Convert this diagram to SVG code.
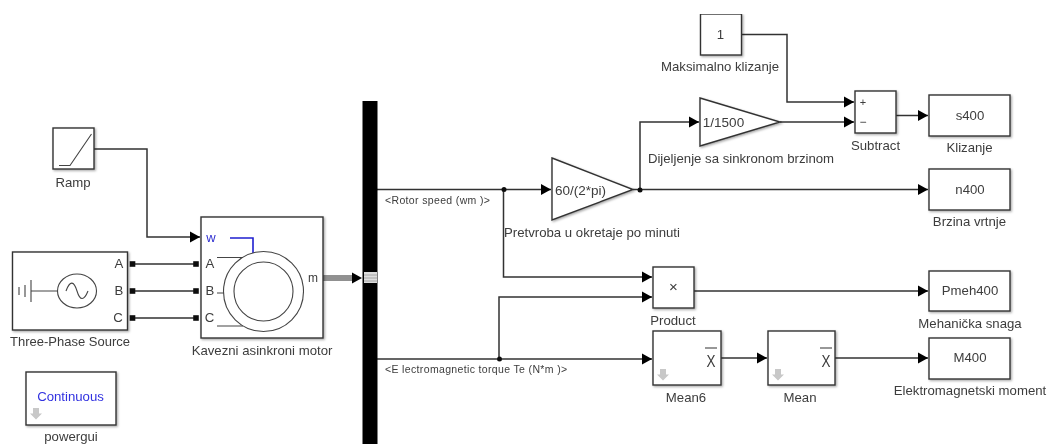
<svg xmlns="http://www.w3.org/2000/svg" width="1051" height="444" viewBox="0 0 1051 444">
<style>
.b{fill:#fff;stroke:#333;stroke-width:1.4;filter:url(#sh)}
.t{font-family:"Liberation Sans",Arial,sans-serif;font-size:13.2px;fill:#3c3c3c;text-anchor:middle}
.s{font-size:10.5px;text-anchor:start;letter-spacing:.35px}
.c{fill:none;stroke:#333;stroke-width:1.5}
.g{fill:none;stroke:#444;stroke-width:1.1}
.d{fill:#111}
.u{fill:#c8c8c8}
.w{fill:#fff}
</style>
<defs>
<filter id="sh" x="-10%" y="-10%" width="125%" height="125%"><feDropShadow dx="1.2" dy="1.2" stdDeviation="1" flood-color="#000" flood-opacity=".35"/></filter>
<filter id="bl" x="0" y="0" width="100%" height="100%"><feGaussianBlur stdDeviation=".45"/></filter>
<marker id="a" markerUnits="userSpaceOnUse" markerWidth="11" markerHeight="12" refX="10" refY="6" orient="auto"><path d="M0 .5L10 6L0 11.500Z" fill="#000"/></marker>
<path id="dn" d="M-3 0H3V5.500H6L0 11.500L-6 5.500H-3Z"/>
<rect id="pt" x="-2.800" y="-2.800" width="5.600" height="5.600" fill="#111"/>
</defs>
<rect width="1051" height="444" fill="#fff"/>
<g filter="url(#bl)">
<g id="connectors">
<path class="c" marker-end="url(#a)" d="M94 149H147V237H200"/>
<path class="c" d="M133 264H195M133 291H195M133 318H195"/>
<path fill="none" stroke="#222" stroke-width="1" d="M323 276H353M323 278H353M323 280H353"/>
<path d="M352 272.500L362 278L352 283.500Z" fill="#000"/>
<path class="c" marker-end="url(#a)" d="M377 189.500H551"/>
<path class="c" marker-end="url(#a)" d="M503.500 189.500V277H652"/>
<path class="c" marker-end="url(#a)" d="M377 359H652"/>
<path class="c" marker-end="url(#a)" d="M499 359V297H652"/>
<path class="c" marker-end="url(#a)" d="M633 189.500H928"/>
<path class="c" marker-end="url(#a)" d="M640 189.500V122H699"/>
<path class="c" marker-end="url(#a)" d="M780 122H854"/>
<path class="c" marker-end="url(#a)" d="M741 34.500H787V102H854"/>
<path class="c" marker-end="url(#a)" d="M896 115.500H928"/>
<path class="c" marker-end="url(#a)" d="M694 291H928"/>
<path class="c" marker-end="url(#a)" d="M721 358H767"/>
<path class="c" marker-end="url(#a)" d="M835 358H928"/>
<circle class="d" cx="504" cy="189.500" r="2.500"/>
<circle class="d" cx="640" cy="190" r="2.500"/>
<circle class="d" cx="499.500" cy="359" r="2.500"/>
<text class="t s" x="385" y="204">&lt;Rotor speed (wm )&gt;</text>
<text class="t s" x="385" y="373">&lt;E lectromagnetic torque Te (N*m )&gt;</text>
</g>
<g id="ramp"><rect class="b" x="53" y="128" width="41" height="41"/><path class="g" d="M59 165.500H70L91.500 134"/><text class="t" x="73" y="187">Ramp</text></g>
<g id="source"><rect class="b" x="12.500" y="252" width="115" height="78"/>
<path class="g" d="M19 287V295M25 285V297M31 280V302M31 291H57"/>
<ellipse class="g" cx="77" cy="291" rx="19.500" ry="17"/>
<path class="g" stroke-width="1.300" d="M66 291C70 280 74 281 77 291C80 301 84 301 88 291"/>
<text class="t" x="119" y="268">A</text><text class="t" x="119" y="295">B</text><text class="t" x="118" y="322">C</text>
<use href="#pt" x="132.500" y="264"/><use href="#pt" x="132.500" y="291"/><use href="#pt" x="132.500" y="318"/>
<text class="t" x="70" y="346" textLength="120" lengthAdjust="spacingAndGlyphs">Three-Phase Source</text></g>
<g id="motor"><rect class="b" x="201" y="217" width="122" height="121"/>
<text class="t" x="211" y="242" style="fill:#3030d0;font-size:13px">w</text>
<path fill="none" stroke="#2020d0" stroke-width="1.600" d="M230 238H253V253"/>
<path class="g" d="M217 257.500H243M217 293H224M217 326H243"/>
<circle class="g" cx="263.500" cy="291.500" r="40"/><circle class="g" cx="263.500" cy="291.500" r="29.500"/>
<text class="t" x="210" y="268">A</text><text class="t" x="210" y="295">B</text><text class="t" x="209.500" y="322">C</text>
<text class="t" x="313" y="282" style="font-size:12px">m</text>
<use href="#pt" x="196" y="264"/><use href="#pt" x="196" y="291"/><use href="#pt" x="196" y="318"/>
<text class="t" x="262" y="355">Kavezni asinkroni motor</text></g>
<g id="powergui"><rect class="b" x="26" y="372" width="90" height="53"/><text class="t" x="70.500" y="401" style="fill:#3030e0">Continuous</text><use href="#dn" x="36" y="408" class="u"/><text class="t" x="71" y="441">powergui</text></g>
<g id="bus"><rect x="362.500" y="101" width="15" height="343" fill="#000"/><rect x="364" y="272" width="13" height="11" fill="#ddd"/><path d="M364 275H377M364 278H377M364 281H377" stroke="#999" stroke-width=".8"/></g>
<g id="gain1"><path class="b" d="M552 158L633 189.500L552 220Z"/><text class="t" x="580.500" y="194.500" style="font-size:13.500px">60/(2*pi)</text><text class="t" x="592" y="237">Pretvroba u okretaje po minuti</text></g>
<g id="gain2"><path class="b" d="M700 98L780 122L700 146Z"/><text class="t" x="723.500" y="127" style="font-size:13.500px">1/1500</text><text class="t" x="741" y="163">Dijeljenje sa sinkronom brzinom</text></g>
<g id="constant"><rect class="b" x="700.500" y="14" width="41" height="41"/><text class="t" x="720.500" y="39">1</text><text class="t" x="720" y="71">Maksimalno klizanje</text></g>
<g id="subtract"><rect class="b" x="855" y="91" width="41" height="42"/><text class="t" x="863" y="106" style="font-size:11px">+</text><text class="t" x="863" y="126" style="font-size:12px">−</text><text class="t" x="875.500" y="150">Subtract</text></g>
<g id="s400"><rect class="b" x="929" y="95" width="81" height="41"/><text class="t" x="970" y="120">s400</text><text class="t" x="969.500" y="152">Klizanje</text></g>
<g id="n400"><rect class="b" x="929" y="169" width="81" height="41"/><text class="t" x="970" y="194">n400</text><text class="t" x="969.500" y="226">Brzina vrtnje</text></g>
<g id="product"><rect class="b" x="653" y="267" width="41" height="41"/><text class="t" x="673.500" y="292" style="font-size:15px">×</text><text class="t" x="673" y="325">Product</text></g>
<g id="pmeh"><rect class="b" x="929" y="271" width="81" height="40"/><text class="t" x="970" y="295">Pmeh400</text><text class="t" x="970" y="328">Mehanička snaga</text></g>
<g id="mean6"><rect class="b" x="653" y="331" width="68" height="54"/><text class="t" x="711" y="367" style="font-size:17px" textLength="9" lengthAdjust="spacingAndGlyphs">X</text><path class="g" d="M705 348H717"/><use href="#dn" x="663" y="369" class="u"/><text class="t" x="686" y="402">Mean6</text></g>
<g id="mean"><rect class="b" x="768" y="331" width="67" height="54"/><text class="t" x="826" y="367" style="font-size:17px" textLength="9" lengthAdjust="spacingAndGlyphs">X</text><path class="g" d="M820 348H832"/><use href="#dn" x="778" y="369" class="u"/><text class="t" x="800" y="402">Mean</text></g>
<g id="m400"><rect class="b" x="929" y="338" width="81" height="41"/><text class="t" x="970" y="362">M400</text><text class="t" x="970" y="395">Elektromagnetski moment</text></g>
</g>
</svg>
